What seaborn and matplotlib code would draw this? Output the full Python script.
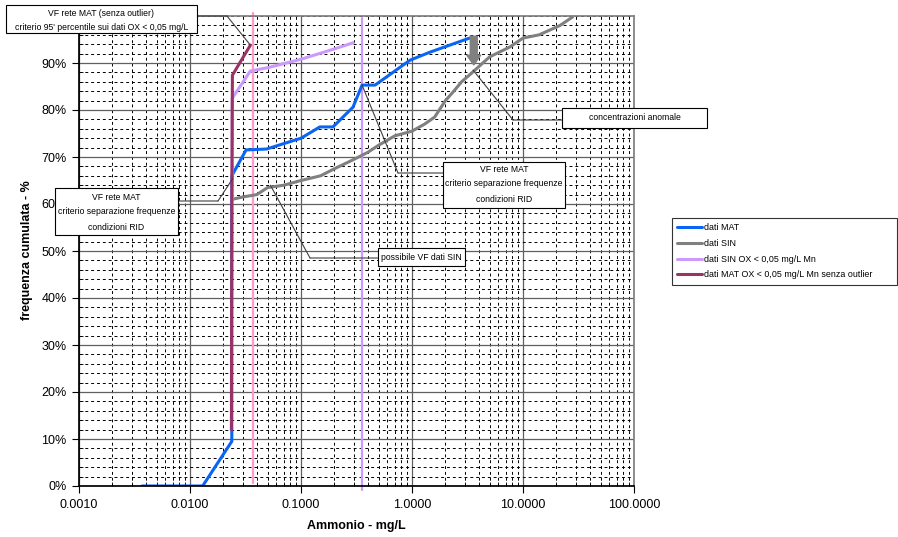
import pandas as pd
import seaborn as sns
import matplotlib.pyplot as plt
import matplotlib.ticker as mticker
from matplotlib.patches import Rectangle
from matplotlib.transforms import Affine2D

W, H = 898, 537

# cumulative frequency curves (x = Ammonio mg/L, y = %)
mat_x = [0.0037, 0.013, 0.0238, 0.0238, 0.032, 0.049, 0.10, 0.148, 0.194, 0.294, 0.355, 0.465, 0.96, 1.45, 3.3]
mat_y = [0.0, 0.0, 9.5, 66.0, 71.5, 71.7, 74.0, 76.4, 76.4, 80.6, 85.3, 85.3, 90.6, 92.3, 95.3]

sin_x = [0.024, 0.03, 0.04, 0.05, 0.07, 0.10, 0.15, 0.20, 0.30, 0.40, 0.50, 0.70, 1.0, 1.3, 1.6,
         2.0, 2.3, 2.8, 3.5, 3.9, 5.0, 7.6, 10.0, 14.0, 21.6, 28.0]
sin_y = [61.0, 61.5, 62.0, 63.5, 64.0, 65.0, 66.0, 67.5, 69.5, 71.0, 72.5, 74.5, 75.5, 77.0, 78.5,
         82.0, 83.6, 86.0, 88.0, 89.0, 91.3, 93.4, 95.3, 96.0, 98.0, 99.8]

sin_ox_x = [0.024, 0.024, 0.035, 0.05, 0.10, 0.20, 0.295]
sin_ox_y = [61.0, 82.5, 88.3, 89.0, 90.8, 93.0, 94.3]

mat_ox_x = [0.0236, 0.0238, 0.0241, 0.035]
mat_ox_y = [12.0, 60.0, 87.4, 93.8]

labels = ['dati MAT', 'dati SIN', 'dati SIN OX < 0,05 mg/L Mn',
          'dati MAT OX < 0,05 mg/L Mn senza outlier']
colors = ['#0A64F5', '#808080', '#CC99FF', '#993366']

vf_pink = 0.037    # VF rete MAT
vf_lilac = 0.355   # VF dati SIN

sns.set_theme(style='white', rc={'text.color': 'black', 'axes.labelcolor': 'black',
                                 'xtick.color': 'black', 'ytick.color': 'black'})
plt.rcParams['font.family'] = ['Liberation Sans', 'DejaVu Sans']

frames = []
for xs, ys, lab in zip([mat_x, sin_x, sin_ox_x, mat_ox_x], [mat_y, sin_y, sin_ox_y, mat_ox_y], labels):
    frames.append(pd.DataFrame({'conc': xs, 'freq': ys, 'serie': lab}))
df = pd.concat(frames, ignore_index=True)

fig = plt.figure(figsize=(W / 100, H / 100), dpi=100)
ax = fig.add_axes([79 / W, 1 - 486 / H, 555 / W, 470 / H])
px = Affine2D().scale(1 / W, -1 / H).translate(0, 1) + fig.transFigure  # image pixels

ax.set_xscale('log')
ax.axvline(vf_pink, ymin=0.006, ymax=1.007, color='#FF99CC', lw=1.6, clip_on=False, zorder=1.8)
ax.axvline(vf_lilac, ymin=-0.008, ymax=0.996, color='#CC99FF', lw=1.6, clip_on=False, zorder=1.8)

sns.lineplot(data=df, x='conc', y='freq', hue='serie', hue_order=labels,
             palette=dict(zip(labels, colors)), sort=False, estimator=None,
             linewidth=2.2, ax=ax)

ax.set_xlim(0.001, 100)
ax.set_ylim(0, 100)
ax.xaxis.set_major_locator(mticker.LogLocator(base=10))
ax.xaxis.set_minor_locator(mticker.LogLocator(base=10, subs=range(2, 10)))
ax.xaxis.set_major_formatter(mticker.FuncFormatter(lambda v, _: f'{v:.4f}'))
ax.xaxis.set_minor_formatter(mticker.NullFormatter())
ax.yaxis.set_major_locator(mticker.FixedLocator(range(0, 100, 10)))
ax.yaxis.set_minor_locator(mticker.MultipleLocator(2))
ax.yaxis.set_major_formatter(mticker.FuncFormatter(lambda v, _: f'{v:.0f}%'))

ax.set_axisbelow(True)
ax.grid(which='major', color='#606060', lw=0.9, ls='-')
ax.grid(which='minor', color='black', lw=0.7, ls=(0, (3, 3)))
ax.tick_params(which='major', bottom=True, left=True, length=5, width=0.8, labelsize=9, pad=4)
ax.tick_params(which='minor', bottom=True, left=True, length=3, width=0.6, direction='in')
for side in ['top', 'right']:
    ax.spines[side].set_color('#808080')
for side in ['left', 'bottom']:
    ax.spines[side].set_color('black')

ax.set_xlabel('Ammonio - mg/L', fontsize=9, fontweight='bold')
ax.set_ylabel('frequenza cumulata - %', fontsize=9, fontweight='bold')
ax.xaxis.set_label_coords(0.5, -0.072)
ax.yaxis.set_label_coords(-0.083, 0.502)

# legend outside, right
handles, labs = ax.get_legend_handles_labels()
ax.get_legend().remove()
leg = fig.legend(handles, labs, loc='upper left',
                 bbox_to_anchor=(672 / W, 1 - 285 / H, 225 / W, 67 / H), mode='expand',
                 borderaxespad=0, fontsize=6.4, frameon=True, fancybox=False,
                 edgecolor='black', handlelength=2.8, handletextpad=0.2,
                 labelspacing=0.75, borderpad=0.6)
leg.get_frame().set_linewidth(0.8)

# gray arrow on anomalous concentrations
ax.annotate('', xy=(3.6, 89.6), xytext=(3.6, 95.7),
            arrowprops=dict(arrowstyle='simple,head_width=1.0,head_length=0.7,tail_width=0.5',
                            fc='#808080', ec='#808080', shrinkA=0, shrinkB=0, mutation_scale=10))


def note(box, lines, ys, edge, corner, target):
    x0, y0, x1, y1 = box
    fig.add_artist(Rectangle((x0, y0), x1 - x0, y1 - y0, transform=px, fc='white',
                             ec='black', lw=0.8, zorder=6))
    for t, yy in zip(lines, ys):
        fig.text((x0 + x1) / 2, yy, t, transform=px, ha='center', va='center',
                 fontsize=6.2, zorder=7)
    line_kw = dict(arrowstyle='-', color='#404040', lw=0.8, shrinkA=0, shrinkB=0)
    ax.annotate('', xy=corner, xycoords=px, xytext=edge, textcoords=px, arrowprops=line_kw)
    ax.annotate('', xy=target, xycoords='data', xytext=corner, textcoords=px,
                arrowprops=line_kw, annotation_clip=False)


note((6, 5, 197, 33),
     ['VF rete MAT (senza outlier)', "criterio 95' percentile sui dati OX < 0,05 mg/L"],
     [13, 27], (197, 16), (227, 16), (0.035, 93.8))
note((443, 162, 565, 208),
     ['VF rete MAT', 'criterio separazione frequenze', 'condizioni RID'],
     [169, 184, 199], (443, 173), (398, 173), (vf_lilac, 85.3))
note((55, 188, 178, 235),
     ['VF rete MAT', 'criterio separazione frequenze', 'condizioni RID'],
     [197, 212, 227], (178, 201), (218, 201), (0.0244, 65.5))
note((378, 248, 465, 266), ['possibile VF dati SIN'], [257],
     (378, 258), (310, 258), (0.053, 64.0))
note((562, 108, 707, 128), ['concentrazioni anomale'], [118],
     (562, 120), (513, 120), (3.55, 88.5))

fig.savefig('out.png', dpi=100)
